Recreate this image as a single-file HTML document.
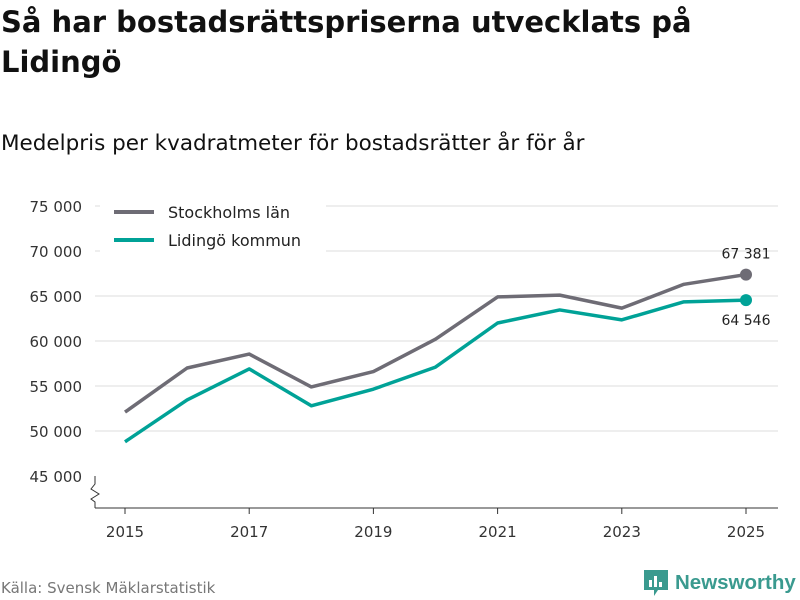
<!DOCTYPE html>
<html><head><meta charset="utf-8">
<style>
body{margin:0;background:#fff;width:800px;height:600px;overflow:hidden;font-family:"DejaVu Sans","Liberation Sans",sans-serif;}
#title{position:absolute;left:1px;top:2px;width:799px;font-size:29px;font-weight:bold;line-height:40px;color:#111;white-space:nowrap;}
#sub{position:absolute;left:1px;top:131px;font-size:21.5px;color:#111;}
#src{position:absolute;left:1px;top:579px;font-size:15px;color:#777;}
#logo{position:absolute;left:644px;top:570px;display:flex;align-items:center;}
#logo span{font-family:"Liberation Sans",sans-serif;font-size:20.5px;font-weight:bold;color:#3a9a8f;margin-left:7px;}
svg{position:absolute;left:0;top:0;}
</style></head><body>
<div id="title">Så har bostadsrättspriserna utvecklats på<br>Lidingö</div>
<div id="sub">Medelpris per kvadratmeter för bostadsrätter år för år</div>
<div id="src">Källa: Svensk Mäklarstatistik</div>
<div id="logo">
<svg width="24" height="26" style="position:static"><path d="M0 0H24V20H14L10 26V20H0Z" fill="#3a9a8f"/><rect x="5" y="10" width="3" height="7" fill="#fff"/><rect x="10" y="6" width="3" height="11" fill="#fff"/><rect x="15" y="12" width="3" height="5" fill="#fff"/></svg>
<span>Newsworthy</span></div>
<svg id="chart" width="800" height="600"></svg>
<script>
const years=[2015,2016,2017,2018,2019,2020,2021,2022,2023,2024,2025];
const sthlm=[52100,57000,58550,54900,56600,60200,64900,65100,63650,66300,67381];
const lidingo=[48800,53450,56900,52800,54650,57100,62000,63450,62350,64350,64546];
const yTicks=[45000,50000,55000,60000,65000,70000,75000];
const xTicks=[2015,2017,2019,2021,2023,2025];
const NS="http://www.w3.org/2000/svg";
const svg=document.getElementById('chart');
const x=v=>125+(v-2015)*62.1;
const y=v=>476-(v-45000)*0.009;
const fmt=v=>String(v).replace(/\B(?=(\d{3})+(?!\d))/g,' ');
function el(t,a,txt){const e=document.createElementNS(NS,t);for(const k in a)e.setAttribute(k,a[k]);if(txt!==undefined)e.textContent=txt;svg.appendChild(e);return e;}
yTicks.forEach(t=>{
 if(t>45000){const g=el('line',{x1:95,x2:778,y1:y(t),y2:y(t),stroke:'#ddd','stroke-width':1});
 
 }
 const l=el('text',{x:82,y:y(t)+6,'text-anchor':'end','font-size':15,fill:'#333'},fmt(t));
 
 
});
const ax=el('line',{x1:95,x2:778,y1:508,y2:508,stroke:'#333','stroke-width':1});


const br=el('path',{d:'M95 476V484L91 489L99 494L91 499L95 502V508',fill:'none',stroke:'#333','stroke-width':1});


xTicks.forEach(t=>{
 const k=el('line',{x1:x(t),x2:x(t),y1:508,y2:514,stroke:'#333'});
 
 
 const l=el('text',{x:x(t),y:537,'text-anchor':'middle','font-size':15,fill:'#333'},t);
 
 
});
function series(vals,color,name){
 const p=el('polyline',{points:vals.map((v,i)=>x(years[i])+','+y(v)).join(' '),fill:'none',stroke:color,'stroke-width':3.5,'stroke-linejoin':'round'});
 
 
 const n=vals.length-1;
 const c=el('circle',{cx:x(years[n]),cy:y(vals[n]),r:6,fill:color});
 
 
}
series(sthlm,'#6e6c75','stockholm');
series(lidingo,'#00a297','lidingo');
const l1=el('text',{x:746,y:y(sthlm[10])-16,'text-anchor':'middle','font-size':14,fill:'#222'},fmt(sthlm[10]));


const l2=el('text',{x:746,y:y(lidingo[10])+25,'text-anchor':'middle','font-size':14,fill:'#222'},fmt(lidingo[10]));


const lb=el('rect',{x:100,y:196,width:226,height:62,fill:'#fff'});


[['Stockholms län','#6e6c75',212],['Lidingö kommun','#00a297',240]].forEach(([t,c,yy])=>{
 const s=el('line',{x1:114,x2:154,y1:yy,y2:yy,stroke:c,'stroke-width':4});
 
 
 const tx=el('text',{x:168,y:yy+6,'font-size':16,fill:'#222'},t);
 
 
});
</script>
</body></html>
